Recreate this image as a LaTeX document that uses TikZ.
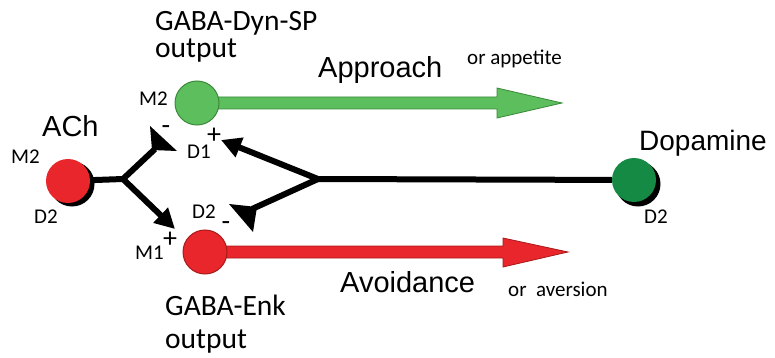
\documentclass[tikz,border=0pt]{standalone}
\usepackage{fontspec}
\setmainfont{Carlito}
\newfontfamily\arialf{Liberation Sans}
\usetikzlibrary{arrows.meta}
\definecolor{redc}{HTML}{E8262B}
\definecolor{redb}{HTML}{A81A1C}
\definecolor{greenc}{HTML}{5CBE5C}
\definecolor{greenb}{HTML}{3A8A3A}
\definecolor{dopc}{HTML}{148A45}
\begin{document}
\begin{tikzpicture}[x=1pt,y=-1pt,
  big/.style={font=\arialf\fontsize{29}{30}\selectfont, inner sep=0, anchor=base west},
  lab/.style={font=\fontsize{29.5}{30}\selectfont, inner sep=0, anchor=base west},
  note/.style={font=\fontsize{21}{22}\selectfont, inner sep=0, anchor=base west},
  small/.style={font=\fontsize{21}{22}\selectfont, inner sep=0, anchor=base west},
  sign/.style={font=\fontsize{28}{28}\selectfont, inner sep=0},
  conn/.style={line width=6pt, black},
  ball/.style={circle, minimum size=44pt, inner sep=0},
  tip/.style={-{Triangle[length=20pt,width=20pt]}},
]
\useasboundingbox (0,0) rectangle (775,358);
% texts
\node[big] (ach) at (42,137) {ACh};
\node[big, font=\arialf\fontsize{28}{30}\selectfont] (dop) at (639,150) {Dopamine};
\node[big] (appr) at (318,78) {Approach};
\node[big] (avoid) at (340,292) {Avoidance};
\node[lab] (dyn) at (155,31) {GABA-Dyn-SP};
\node[lab] (dynout) at (155,58) {output};
\node[lab] (enk) at (165,315) {GABA-Enk};
\node[lab] (enkout) at (165,348) {output};
\node[note] (appet) at (467,65) {or appetite};
\node[note] (avers) at (508,296) {or\ \ aversion};
% output arrows
\fill[greenc, draw=greenb, line width=0.8pt] (197,97) -- (497,97) -- (497,88) -- (562,103) -- (497,118) -- (497,109) -- (197,109) -- cycle;
\node[ball, fill=greenc, draw=greenb, line width=1pt] (gc) at (197,103) {};
\fill[redc, draw=redb, line width=0.8pt] (205,246) -- (503,246) -- (503,238) -- (568,252) -- (503,267) -- (503,258) -- (205,258) -- cycle;
\node[ball, fill=redc, draw=redb, line width=1pt] (rc) at (205,252) {};
% ACh
\fill[black] (72,184) circle (22.5);
\node[ball, fill=redc] (achc) at (68,181) {};
% Dopamine
\fill[black] (638,184) circle (22.5);
\node[ball, fill=dopc] (dopc) at (634,180) {};
% junctions
\coordinate (j1) at (123,179);
\coordinate (achtee) at (155,149);
\coordinate (m1tip) at (175,229);
\coordinate (j2) at (318,179);
\coordinate (d1tip) at (221,140);
\coordinate (d2tee) at (252,209);
\draw[conn] (achc) -- (j1);
\draw[conn] (j1) -- (achtee);
\draw[conn, tip] (j1) -- (m1tip);
\draw[conn] (dopc) -- (j2);
\draw[conn, tip] (j2) -- (d1tip);
\draw[conn] (j2) -- (d2tee);
\fill[black] (150,126) -- (177,151) -- (152,150) -- cycle;
\fill[black] (229,204) -- (257,207) -- (253,232) -- cycle;
% small labels
\node[small] (m2a) at (11,164) {M2};
\node[small] (d2a) at (34,223) {D2};
\node[small, anchor=base east] (m2g) at (168,106) {M2};
\node[small] (d1) at (187,159) {D1};
\node[small] (d2r) at (192,218) {D2};
\node[small, anchor=base east] (m1) at (164,259) {M1};
\node[small] (d2d) at (644,223) {D2};
\node[sign] (s1) at (166,130) {-};
\node[sign] (s2) at (214,136) {+};
\node[sign] (s3) at (226,226) {-};
\node[sign] (s4) at (170,240) {+};
\end{tikzpicture}
\end{document}
